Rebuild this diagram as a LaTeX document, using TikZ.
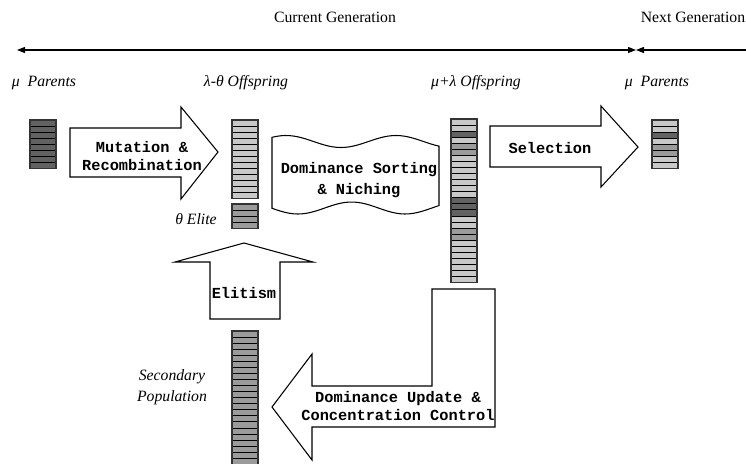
\documentclass[tikz,border=0pt]{standalone}
\usepackage{fontspec}
\setmainfont{Liberation Serif}
\setmonofont{Liberation Mono}
\usetikzlibrary{arrows.meta}
\definecolor{pD}{RGB}{98,98,98}
\definecolor{pM}{RGB}{155,155,155}
\definecolor{pL}{RGB}{200,200,200}
\tikzset{
  cell/.style={draw=black, line width=0.4pt},
  colframe/.style={draw=black!80, line width=0.9pt},
  blockarr/.style={draw=black, fill=white, line width=0.8pt, line join=miter},
  opname/.style={font=\ttfamily\bfseries\fontsize{11.5}{13.5}\selectfont, align=center, inner sep=0pt},
  poplbl/.style={font=\itshape\fontsize{11.8}{16}\selectfont, align=center, inner sep=0pt},
  genlbl/.style={font=\fontsize{11.8}{13}\selectfont, inner sep=0pt},
  genline/.style={line width=1pt},
}
% column of individuals: #1 x, #2 top y, #3 number of cells, #4 colours
\newcommand{\popcolumn}[4]{%
  \foreach \c [count=\i from 0] in {#4} {
    \draw[cell, fill=\c] (#1,#2+\i*6.05) rectangle ++(26,6.05);
  }
  \draw[colframe] (#1,#2) rectangle ++(26,#3*6.05);
}

\begin{document}
\begin{tikzpicture}[x=0.75pt, y=-0.75pt]
  \useasboundingbox (0,0) rectangle (746,464);

  % generation time line
  \node[genlbl] (curgen)  at (335,17) {Current Generation};
  \node[genlbl] (nextgen) at (693,17) {Next Generation};
  \coordinate (curL)  at (17,50);
  \coordinate (genB)  at (636,50);
  \coordinate (nextR) at (746,50);
  \draw[genline, {Triangle[length=6pt,width=4.5pt]}-{Triangle[length=6pt,width=4.5pt]}] (curL) -- (genB);
  \draw[genline, {Triangle[length=6pt,width=4.5pt]}-] (genB) -- (nextR);

  % population labels
  \node[poplbl] (parA)  at (44,83)   {μ\ \ Parents};
  \node[poplbl] (offA)  at (246,83)  {λ-θ Offspring};
  \node[poplbl] (offB)  at (476,83)  {μ+λ Offspring};
  \node[poplbl] (parB)  at (657,83)  {μ\ \ Parents};
  \node[poplbl] (elite) at (196,219) {θ Elite};
  \node[poplbl] (second) at (172,387) {Secondary\\Population};

  % populations
  \popcolumn{30}{120}{8}{pD,pD,pD,pD,pD,pD,pD,pD}
  \popcolumn{232}{120}{13}{pL,pL,pL,pL,pL,pL,pL,pL,pL,pL,pL,pL,pL}
  \popcolumn{232}{204}{4}{pM,pM,pM,pM}
  \popcolumn{451}{119}{27}{pL,pL,pD,pL,pM,pM,pL,pL,pL,pL,pL,pL,pL,pD,pD,pD,pL,pL,pM,pM,pL,pL,pL,pL,pL,pL,pL}
  \popcolumn{652}{120}{8}{pL,pL,pD,pL,pM,pM,pL,pL}
  \popcolumn{232}{331}{23}{pM,pM,pM,pM,pM,pM,pM,pM,pM,pM,pM,pM,pM,pM,pM,pM,pM,pM,pM,pM,pM,pM,pM}

  % operators
  \draw[blockarr] (70,128) -- (181,128) -- (181,107) -- (218,152) -- (181,199)
    -- (181,177) -- (70,177) -- cycle;
  \node[opname] (mutrec) at (142,156) {Mutation \&\\Recombination};

  \draw[blockarr] plot[domain=272:439, samples=40] (\x,{141.5-6*cos(3.2727*(\x-286))})
    -- plot[domain=439:272, samples=40] (\x,{208+6*cos(3.36*(\x-298))}) -- cycle;
  \node[opname, font=\ttfamily\bfseries\fontsize{11.5}{16}\selectfont] (sortnich) at (359,180) {Dominance Sorting\\\& Niching};

  \draw[blockarr] (490,126) -- (601,126) -- (601,106) -- (638,147) -- (601,187)
    -- (601,167) -- (490,167) -- cycle;
  \node[opname] (select) at (550,148) {Selection};

  \draw[blockarr] (210,319) -- (210,262) -- (175,262) -- (244,243) -- (313,262)
    -- (280,262) -- (280,319) -- cycle;
  \node[opname] (elitism) at (244,293) {Elitism};

  \draw[blockarr] (495,289) -- (432,289) -- (432,386) -- (312,386) -- (312,354)
    -- (272,407) -- (312,460) -- (312,427) -- (495,427) -- cycle;
  \node[opname, font=\ttfamily\bfseries\fontsize{11.5}{12.8}\selectfont] (domupd) at (398,406) {Dominance Update \&\\Concentration Control};
\end{tikzpicture}
\end{document}
